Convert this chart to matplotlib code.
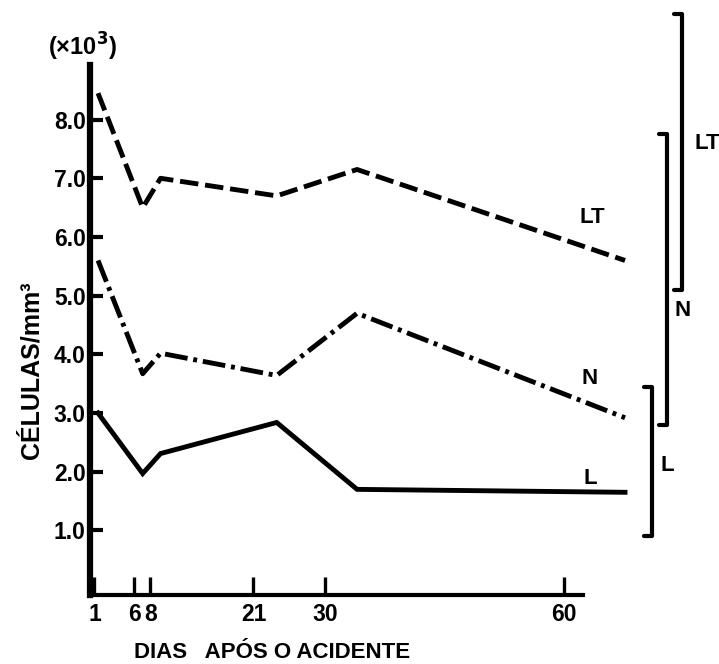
import matplotlib
matplotlib.use("Agg")
import matplotlib.pyplot as plt
import matplotlib.transforms as mtransforms

# dias após o acidente
dias = [1, 6, 8, 21, 30, 60]

# células/mm3 (x10^3)
leucocitos_totais = [8.45, 6.5, 7.0, 6.7, 7.15, 5.6]
neutrofilos = [5.6, 3.67, 4.02, 3.64, 4.7, 2.92]
linfocitos = [3.0, 1.97, 2.31, 2.84, 1.7, 1.65]

y_ticks = [1, 2, 3, 4, 5, 6, 7, 8]

# faixas de referência (colchetes à direita)
faixa_nomes = ["LT", "N", "L"]
faixa_min = [5.1, 2.8, 0.9]
faixa_max = [9.8, 7.75, 3.45]


def main():
    plt.rcParams["font.family"] = ["Liberation Sans", "DejaVu Sans"]
    plt.rcParams["font.weight"] = "bold"
    plt.rcParams["axes.labelweight"] = "bold"

    fig = plt.figure(figsize=(7.19, 6.64), dpi=100)
    ax = fig.add_axes([0.1252, 0.1039, 0.6857, 0.7982])
    ax.set_xlim(0.44, 62.45)
    ax.set_ylim(-0.1, 8.93)

    for side in ["top", "right"]:
        ax.spines[side].set_visible(False)
    ax.spines["left"].set_linewidth(4.5)
    ax.spines["bottom"].set_linewidth(3)

    ax.set_yticks(y_ticks)
    ax.set_yticklabels([f"{v:.1f}" for v in y_ticks])
    ax.set_xticks(dias)
    ax.set_xticklabels([str(d) for d in dias])
    ax.tick_params(axis="y", direction="in", length=9, width=3, labelsize=16.5, pad=3)
    ax.tick_params(axis="x", direction="in", length=13, width=2.4, labelsize=16.5, pad=6)

    ax.set_ylabel("CÉLULAS/mm³", fontsize=18, fontweight="bold", va="center")
    ax.yaxis.set_label_coords(-0.118, 0.425)
    ax.set_xlabel("DIAS   APÓS O ACIDENTE", fontsize=16, fontweight="bold", va="center")
    ax.xaxis.set_label_coords(0.369, -0.108)

    ax.text(-0.016, 1.035, "(×10$^\\mathbf{3}$)", transform=ax.transAxes,
            ha="center", va="center", fontsize=17, fontweight="bold")

    # the curves are drawn on their own x scale (as in the original drawing)
    ax2 = ax.twiny()
    ax2.set_xlim(0.104, 55.3)
    ax2.axis("off")

    ax2.plot(dias, leucocitos_totais, color="black", lw=3.5,
             linestyle=(0, (3.8, 1.4)), dash_capstyle="butt", clip_on=False)
    ax2.plot(dias, neutrofilos, color="black", lw=3.5,
             linestyle=(0, (4.7, 1.2, 0.8, 1.2)), dash_capstyle="butt", clip_on=False)
    ax2.plot(dias, linfocitos, color="black", lw=3.5,
             solid_joinstyle="miter", clip_on=False)

    for name, serie, offset in [("LT", leucocitos_totais, (-33, 43)),
                                ("N", neutrofilos, (-35, 39)),
                                ("L", linfocitos, (-35, 14))]:
        ax2.annotate(name, xy=(dias[-1], serie[-1]), xytext=offset,
                     textcoords="offset pixels", ha="center", va="center",
                     fontsize=16, annotation_clip=False)

    # colchetes das faixas de referência
    trans = mtransforms.blended_transform_factory(ax.transAxes, ax.transData)
    bracket_x = [1.201, 1.170, 1.140]
    label_pos = [(1.252, 7.59), (1.201, 4.75), (1.170, 2.11)]
    hook = 0.016
    for name, lo, hi, bx, (lx, ly) in zip(faixa_nomes, faixa_min, faixa_max,
                                          bracket_x, label_pos):
        ax.plot([bx - hook, bx, bx, bx - hook], [hi, hi, lo, lo],
                color="black", lw=3, transform=trans, clip_on=False,
                solid_joinstyle="round", solid_capstyle="round")
        ax.text(lx, ly, name, transform=trans, ha="center", va="center",
                fontsize=16)

    plt.savefig("out.png", dpi=100)


if __name__ == "__main__":
    main()
